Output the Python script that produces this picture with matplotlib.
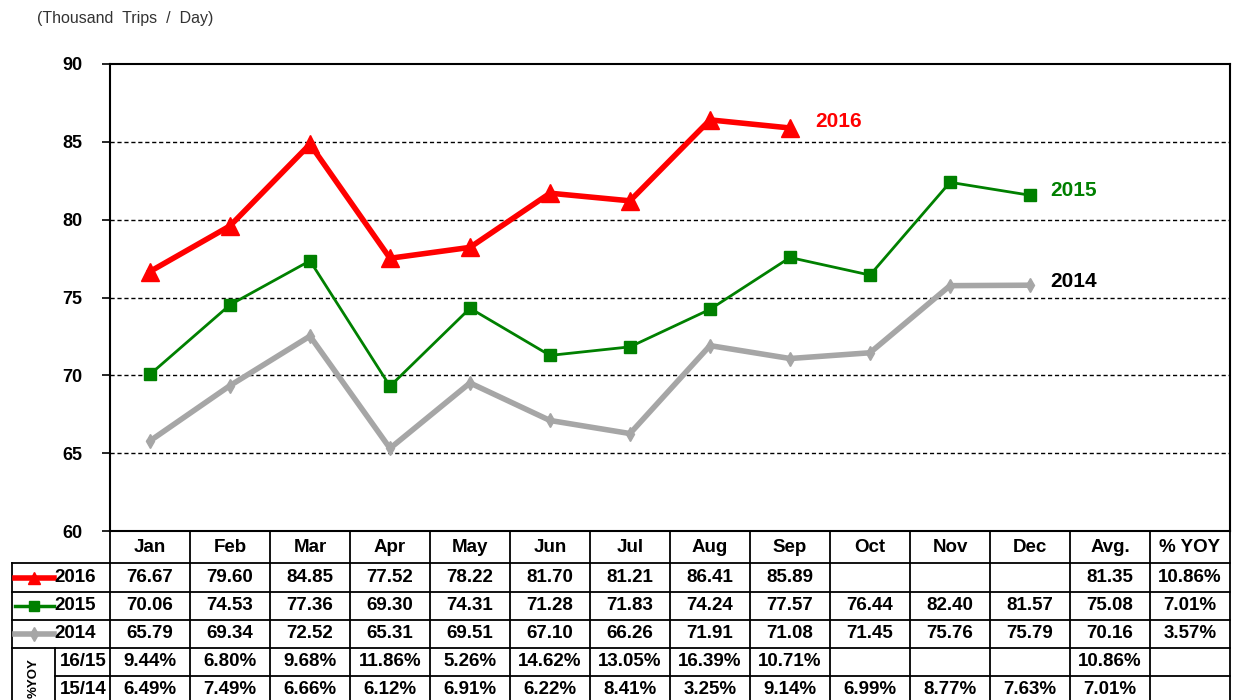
import matplotlib
matplotlib.use('Agg')
import matplotlib.pyplot as plt
import matplotlib.transforms as mtransforms

plt.rcParams['font.family'] = ['Liberation Sans', 'DejaVu Sans']

months = ['Jan', 'Feb', 'Mar', 'Apr', 'May', 'Jun', 'Jul', 'Aug', 'Sep', 'Oct', 'Nov', 'Dec']
v2016 = [76.67, 79.60, 84.85, 77.52, 78.22, 81.70, 81.21, 86.41, 85.89]
v2015 = [70.06, 74.53, 77.36, 69.30, 74.31, 71.28, 71.83, 74.24, 77.57, 76.44, 82.40, 81.57]
v2014 = [65.79, 69.34, 72.52, 65.31, 69.51, 67.10, 66.26, 71.91, 71.08, 71.45, 75.76, 75.79]
avgs = [81.35, 75.08, 70.16]
yoy_avg = ['10.86%', '7.01%', '3.57%']
yoy1615 = ['9.44%', '6.80%', '9.68%', '11.86%', '5.26%', '14.62%', '13.05%', '16.39%', '10.71%']
yoy1514 = ['6.49%', '7.49%', '6.66%', '6.12%', '6.91%', '6.22%', '8.41%', '3.25%', '9.14%',
           '6.99%', '8.77%', '7.63%']
yoy_avg_rows = ['10.86%', '7.01%']
extra_cols = ['Avg.', '% YOY']

W, H = 1233, 700
fig = plt.figure(figsize=(W / 100, H / 100), dpi=100)
L, R, T, B = 110, 1230, 64, 531
ax = fig.add_axes([L / W, 1 - B / H, (R - L) / W, (B - T) / H])
ax.set_xlim(-0.5, 13.5)
ax.set_ylim(60, 90)
ax.set_yticks([60, 65, 70, 75, 80, 85, 90])
ax.set_xticks([])
ax.tick_params(axis='y', length=6, width=1.2, labelsize=13, pad=14)
for lab in ax.get_yticklabels():
    lab.set_fontweight('bold')
for s in ax.spines.values():
    s.set_linewidth(1.5)
for yv in [65, 70, 75, 80, 85]:
    ax.axhline(yv, color='black', ls=(0, (3, 2)), lw=1, zorder=1)

x16 = list(range(len(v2016)))
x12 = list(range(12))
ax.plot(x12, v2014, color='#a6a6a6', lw=4, marker='d', ms=7, zorder=3)
ax.plot(x12, v2015, color='#008000', lw=2, marker='s', ms=9, zorder=4)
ax.plot(x16, v2016, color='#ff0000', lw=4, marker='^', ms=13, zorder=5)
ax.text(8.31, 86.3, '2016', color='#ff0000', fontsize=15, fontweight='bold', ha='left', va='center')
ax.text(11.25, 81.9, '2015', color='#008000', fontsize=15, fontweight='bold', ha='left', va='center')
ax.text(11.25, 76.0, '2014', color='black', fontsize=15, fontweight='bold', ha='left', va='center')

fig.text(37 / W, 1 - 18 / H, '(Thousand  Trips  /  Day)', fontsize=11.5, color='#333333',
         ha='left', va='center')

# table below
tax = fig.add_axes([0, 0, 1, 1])
tax.set_xlim(0, W)
tax.set_ylim(H, 0)
tax.axis('off')
tr = mtransforms.blended_transform_factory(ax.transData, tax.transData)
rows_y = [531, 563, 592, 620, 648, 676, 704]
xl0, xl1 = -1.725, -1.1875
kw = dict(transform=tr, color='black', lw=1.3, clip_on=False)

def hline(y, x0, x1):
    tax.plot([x0, x1], [y, y], **kw)

def vline(x, y0, y1):
    tax.plot([x, x], [y0, y1], **kw)

hline(rows_y[0], -0.5, 13.5)
for y in rows_y[1:5]:
    hline(y, xl0, 13.5)
hline(rows_y[5], xl1, 13.5)
for i in range(15):
    vline(i - 0.5, rows_y[0], H)
vline(xl0, rows_y[1], H)
vline(xl1, rows_y[4], H)

fs = 13.5
tkw = dict(transform=tr, fontsize=fs, fontweight='bold', ha='center', va='center')
cy = [(rows_y[i] + rows_y[i + 1]) / 2 for i in range(6)]
cy[5] = 689
for i, m in enumerate(months + extra_cols):
    tax.text(i, cy[0], m, **tkw)
for r, vals in enumerate([v2016, v2015, v2014]):
    for i, v in enumerate(vals):
        tax.text(i, cy[r + 1], '%.2f' % v, **tkw)
    tax.text(12, cy[r + 1], '%.2f' % avgs[r], **tkw)
    tax.text(13, cy[r + 1], yoy_avg[r], **tkw)
for i, v in enumerate(yoy1615):
    tax.text(i, cy[4], v, **tkw)
for i, v in enumerate(yoy1514):
    tax.text(i, cy[5], v, **tkw)
tax.text(12, cy[4], yoy_avg_rows[0], **tkw)
tax.text(12, cy[5], yoy_avg_rows[1], **tkw)

# legend keys in row labels
series = [('2016', '#ff0000', '^', 4, 9), ('2015', '#008000', 's', 2.5, 7), ('2014', '#a6a6a6', 'd', 4, 7)]
for r, (name, c, mk, lw, ms) in enumerate(series):
    y = cy[r + 1]
    tax.plot([-1.69, -1.2], [y, y], color=c, lw=lw, transform=tr, clip_on=False)
    tax.plot([-1.445], [y], color=c, marker=mk, ms=ms, transform=tr, clip_on=False, ls='none')
    tax.text(-1.19, y, name, transform=tr, fontsize=fs, fontweight='bold', ha='left', va='center')
tax.text(-0.84, cy[4], '16/15', transform=tr, fontsize=fs, fontweight='bold', ha='center', va='center')
tax.text(-0.84, cy[5], '15/14', transform=tr, fontsize=fs, fontweight='bold', ha='center', va='center')
tax.text((xl0 + xl1) / 2, 678, '%YOY', transform=tr, fontsize=9.5, fontweight='bold',
         rotation=90, ha='center', va='center')

fig.savefig('out.png', dpi=100)
